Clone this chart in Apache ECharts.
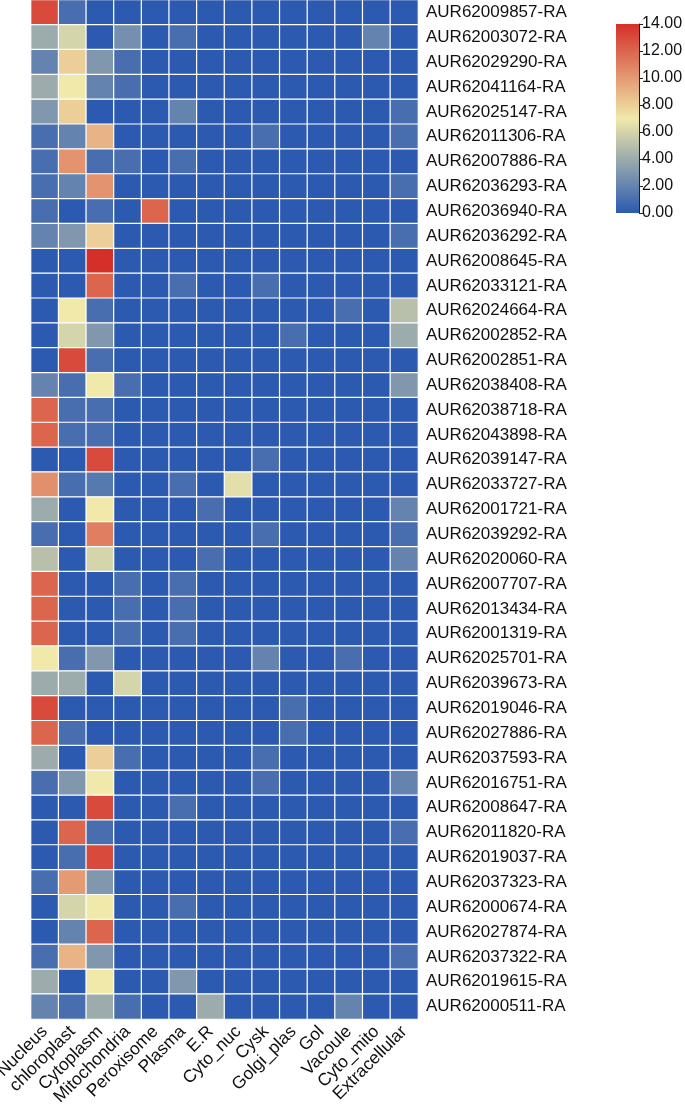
<!DOCTYPE html>
<html>
<head>
<meta charset="utf-8">
<script src="https://cdn.jsdelivr.net/npm/echarts@6/dist/echarts.min.js"></script>
<style>
  html, body { margin: 0; padding: 0; background: #fff; }
  #chart { width: 685px; height: 1106px; }
</style>
</head>
<body>
<div id="chart"></div>
<script>
const compartments = ['Nucleus', 'chloroplast', 'Cytoplasm', 'Mitochondria', 'Peroxisome', 'Plasma', 'E.R',
  'Cyto_nuc', 'Cysk', 'Golgi_plas', 'Gol', 'Vacoule', 'Cyto_mito', 'Extracellular']

const genes = ['AUR62009857-RA', 'AUR62003072-RA', 'AUR62029290-RA', 'AUR62041164-RA', 'AUR62025147-RA',
  'AUR62011306-RA', 'AUR62007886-RA', 'AUR62036293-RA', 'AUR62036940-RA', 'AUR62036292-RA',
  'AUR62008645-RA', 'AUR62033121-RA', 'AUR62024664-RA', 'AUR62002852-RA', 'AUR62002851-RA',
  'AUR62038408-RA', 'AUR62038718-RA', 'AUR62043898-RA', 'AUR62039147-RA', 'AUR62033727-RA',
  'AUR62001721-RA', 'AUR62039292-RA', 'AUR62020060-RA', 'AUR62007707-RA', 'AUR62013434-RA',
  'AUR62001319-RA', 'AUR62025701-RA', 'AUR62039673-RA', 'AUR62019046-RA', 'AUR62027886-RA',
  'AUR62037593-RA', 'AUR62016751-RA', 'AUR62008647-RA', 'AUR62011820-RA', 'AUR62019037-RA',
  'AUR62037323-RA', 'AUR62000674-RA', 'AUR62027874-RA', 'AUR62037322-RA', 'AUR62019615-RA',
  'AUR62000511-RA']

// one row per gene, one value per compartment
const scores = [
  [13, 1, 0, 0, 0, 0, 0, 0, 0, 0, 0, 0, 0, 0],
  [4, 6, 0, 2.6, 0, 1, 0, 0, 0, 0, 0, 0, 2, 0],
  [2, 8, 3, 1, 0, 0, 0, 0, 0, 0, 0, 0, 0, 0],
  [4, 7, 2, 1, 0, 0, 0, 0, 0, 0, 0, 0, 0, 0],
  [3, 8, 0, 0, 0, 2, 0, 0, 0, 0, 0, 0, 0, 1],
  [1, 2, 9, 0, 0, 0, 0, 0, 1, 0, 0, 0, 0, 1],
  [1, 10.2, 1, 1, 0, 1, 0, 0, 0, 0, 0, 0, 0, 0],
  [1, 2, 10.2, 0, 0, 0, 0, 0, 0, 0, 0, 0, 0, 1],
  [1, 0, 1, 0, 12, 0, 0, 0, 0, 0, 0, 0, 0, 0],
  [2, 3, 8, 0, 0, 0, 0, 0, 0, 0, 0, 0, 0, 1],
  [0, 0, 14, 0, 0, 0, 0, 0, 0, 0, 0, 0, 0, 0],
  [0, 0, 12, 0, 0, 1, 0, 0, 1, 0, 0, 0, 0, 0],
  [0, 7, 1, 0, 0, 0, 0, 0, 0, 0, 0, 1, 0, 5],
  [0, 6, 3, 0, 0, 0, 0, 0, 0, 1, 0, 0, 0, 4],
  [0, 13, 1, 0, 0, 0, 0, 0, 0, 0, 0, 0, 0, 0],
  [2, 1, 7, 1, 0, 0, 0, 0, 0, 0, 0, 0, 0, 3],
  [12, 1, 1, 0, 0, 0, 0, 0, 0, 0, 0, 0, 0, 0],
  [12, 1, 1, 0, 0, 0, 0, 0, 0, 0, 0, 0, 0, 0],
  [0, 0, 13, 0, 0, 0, 0, 0, 1, 0, 0, 0, 0, 0],
  [10.4, 1, 1.5, 0, 0, 1, 0, 6.5, 0, 0, 0, 0, 0, 0],
  [4, 0, 7, 0, 0, 0, 1, 0, 0, 0, 0, 0, 0, 2],
  [1, 0, 11, 0, 0, 0, 0, 0, 1, 0, 0, 0, 0, 1],
  [5, 0, 6, 0, 0, 0, 1, 0, 0, 0, 0, 0, 0, 2],
  [12, 0, 0, 1, 0, 1, 0, 0, 0, 0, 0, 0, 0, 0],
  [12, 0, 0, 1, 0, 1, 0, 0, 0, 0, 0, 0, 0, 0],
  [12, 0, 0, 1, 0, 1, 0, 0, 0, 0, 0, 0, 0, 0],
  [7, 1, 3, 0, 0, 0, 0, 0, 2, 0, 0, 1, 0, 0],
  [4, 4, 0, 6, 0, 0, 0, 0, 0, 0, 0, 0, 0, 0],
  [13, 0, 0, 0, 0, 0, 0, 0, 0, 1, 0, 0, 0, 0],
  [12, 1, 0, 0, 0, 0, 0, 0, 0, 1, 0, 0, 0, 0],
  [4, 0, 8, 1, 0, 0, 0, 0, 1, 0, 0, 0, 0, 0],
  [1, 3, 7, 0, 0, 0, 0, 0, 1, 0, 0, 0, 0, 2],
  [0, 0, 13, 0, 0, 1, 0, 0, 0, 0, 0, 0, 0, 0],
  [0, 12, 1, 0, 0, 0, 0, 0, 0, 0, 0, 0, 0, 1],
  [0, 1, 13, 0, 0, 0, 0, 0, 0, 0, 0, 0, 0, 0],
  [1, 10, 3, 0, 0, 0, 0, 0, 0, 0, 0, 0, 0, 0],
  [0, 6, 7, 0, 0, 1, 0, 0, 0, 0, 0, 0, 0, 0],
  [0, 2, 12, 0, 0, 0, 0, 0, 0, 0, 0, 0, 0, 0],
  [1, 9, 3, 0, 0, 0, 0, 0, 0, 0, 0, 0, 0, 1],
  [4, 0, 7, 0, 0, 3, 0, 0, 0, 0, 0, 0, 0, 0],
  [2, 1, 4, 1, 0, 0, 4, 0, 0, 0, 0, 2, 0, 0]
]

const scaleMin = 0
const scaleMax = 14
const rampColors = ['#2c5ab0', '#f0e9aa', '#d43029']

const cells = []
scores.forEach((row, y) => {
  row.forEach((v, x) => cells.push([x, y, v]))
})

const chart = echarts.init(document.getElementById('chart'))
const font = 'Liberation Sans, Arial, sans-serif'

chart.setOption({
  animation: false,
  grid: [
    { left: 31, top: 0, width: 387, height: 1019, outerBoundsMode: 'none' },
    { left: 616, top: 24, width: 23, height: 189, outerBoundsMode: 'none' }
  ],
  xAxis: [
    {
      type: 'category',
      gridIndex: 0,
      data: compartments,
      axisLine: { show: false },
      axisTick: { show: false },
      axisLabel: { rotate: 45, fontSize: 17.5, color: '#111', fontFamily: font, margin: 10, interval: 0 },
      splitLine: { show: false }
    },
    {
      type: 'category',
      gridIndex: 1,
      data: [''],
      show: false
    }
  ],
  yAxis: [
    {
      type: 'category',
      gridIndex: 0,
      data: genes,
      inverse: true,
      position: 'right',
      axisLine: { show: false },
      axisTick: { show: false },
      axisLabel: { fontSize: 17, color: '#111', fontFamily: font, margin: 8, interval: 0 }
    },
    {
      type: 'value',
      gridIndex: 1,
      position: 'right',
      min: scaleMin,
      max: scaleMax,
      interval: 2,
      axisLine: { show: true, lineStyle: { color: '#222', width: 1 } },
      axisTick: { show: true, length: 4, inside: false, lineStyle: { color: '#222' } },
      splitLine: { show: false },
      axisLabel: {
        fontSize: 16, color: '#111', fontFamily: font, margin: 3,
        formatter: v => v.toFixed(2)
      }
    }
  ],
  visualMap: {
    show: false,
    seriesIndex: 0,
    min: scaleMin,
    max: scaleMax,
    inRange: { color: rampColors }
  },
  series: [
    {
      type: 'heatmap',
      xAxisIndex: 0,
      yAxisIndex: 0,
      data: cells,
      itemStyle: { borderColor: '#ffffff', borderWidth: 1.2 },
      emphasis: { disabled: true }
    },
    {
      // colour bar
      type: 'bar',
      xAxisIndex: 1,
      yAxisIndex: 1,
      data: [scaleMax],
      barWidth: '100%',
      silent: true,
      itemStyle: {
        color: new echarts.graphic.LinearGradient(0, 1, 0, 0, [
          { offset: 0, color: rampColors[0] },
          { offset: 0.5, color: rampColors[1] },
          { offset: 1, color: rampColors[2] }
        ])
      }
    }
  ]
})
</script>
</body>
</html>
